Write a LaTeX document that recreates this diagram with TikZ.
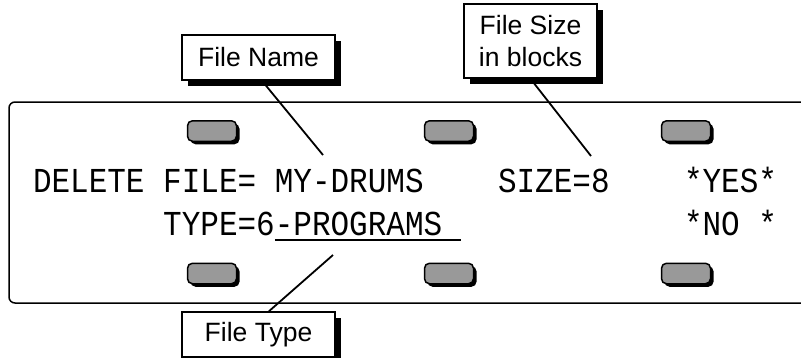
\documentclass[tikz,border=0pt]{standalone}
\usepackage{fontspec}
\setmainfont{Liberation Sans}
\newfontfamily\lcdfont{Liberation Mono}
\usetikzlibrary{shadows}
\definecolor{btngray}{RGB}{153,153,153}
\newcommand\lcdgap{\hspace*{18.6pt}}
\newcommand\lcd[1]{\scalebox{1}[1.13]{#1}}
\begin{document}
\begin{tikzpicture}[x=1pt,y=-1pt,
  labelbox/.style={draw=black, line width=1.6pt, fill=white, inner sep=0pt,
    font=\fontsize{26.5}{32}\selectfont, align=center,
    drop shadow={shadow xshift=5.5pt, shadow yshift=-5.5pt, fill=black, opacity=1}},
  btn/.style={draw=black, line width=1.5pt, fill=btngray, rounded corners=5pt,
    minimum width=49pt, minimum height=20.5pt, inner sep=0pt,
    drop shadow={shadow xshift=3pt, shadow yshift=-3pt, fill=black, opacity=1}},
  lcd/.style={anchor=base west, inner sep=0pt, outer sep=0pt,
    font=\lcdfont\fontsize{31}{31}\selectfont},
  leader/.style={line width=1.8pt},
]
\useasboundingbox (0,0) rectangle (801,357);

% display panel
\draw[line width=1.5pt, rounded corners=6pt] (806,102) -- (9,102) -- (9,303) -- (806,303);

% buttons
\node[btn] (b1) at (212,131) {};
\node[btn] (b2) at (449,131) {};
\node[btn] (b3) at (686,131) {};
\node[btn] (b4) at (212,273.5) {};
\node[btn] (b5) at (449,273.5) {};
\node[btn] (b6) at (686,273.5) {};

% LCD text
\node[lcd] (t1) at ({33+0*18.6},192) {\lcd{DELETE}};
\node[lcd] (t2) at ({33+7*18.6},192) {\lcd{FILE=}};
\node[lcd] (t3) at ({33+13*18.6},192) {\lcd{MY-DRUMS}};
\node[lcd] (t4) at ({33+25*18.6},192) {\lcd{SIZE=8}};
\node[lcd] (t5) at ({33+35*18.6},192) {\lcd{*YES*}};
\node[lcd] (t6) at ({33+7*18.6},235) {\lcd{TYPE=6}};
\node[lcd] (t7) at ({33+13*18.6},235) {\lcd{-PROGRAMS}\lcdgap};
\node[lcd] (t8) at ({33+35*18.6},235) {\lcd{*NO}};
\node[lcd] (t9) at ({33+39*18.6},235) {\lcd{*}};
\draw[line width=1.8pt] ([yshift=-5pt]t7.base west) -- ([yshift=-5pt]t7.base east);

% callout labels
\node[labelbox, minimum width=153pt, minimum height=45pt] (fname) at (258.5,57.5) {File Name};
\node[labelbox, minimum width=133pt, minimum height=74pt] (fsize) at (530.5,41) {File Size\\in blocks};
\node[labelbox, minimum width=153pt, minimum height=45pt] (ftype) at (258.5,334.5) {File Type};

% leaders
\coordinate (tipName) at (323,155);
\coordinate (tipSize) at (591,156);
\coordinate (tipType) at (333,255);
\draw[leader] ([xshift=3.5pt]fname.south) -- (tipName);
\draw[leader] (fsize.south) -- (tipSize);
\draw[leader] ([xshift=10.5pt]ftype.north) -- (tipType);
\end{tikzpicture}
\end{document}
